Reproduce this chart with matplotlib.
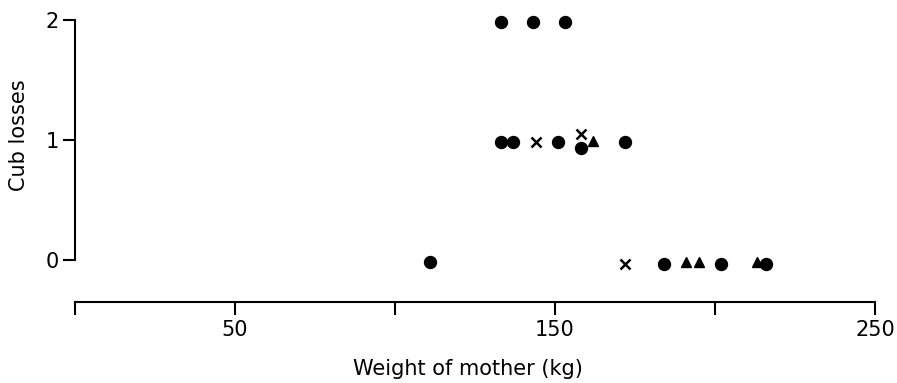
import matplotlib
matplotlib.use("Agg")
import matplotlib.pyplot as plt

plt.rcParams['font.family'] = ['DejaVu Sans']

# Data
circle_x = [133, 143, 153, 133, 137, 151, 158, 172, 111, 184, 202, 216]
circle_y = [1.98, 1.98, 1.98, 0.98, 0.98, 0.98, 0.93, 0.98, -0.02, -0.03, -0.03, -0.03]
tri_x = [162, 191, 195, 213]
tri_y = [0.99, -0.02, -0.02, -0.02]
cross_x = [144, 158, 172]
cross_y = [0.98, 1.05, -0.03]

x_ticks = [0, 50, 100, 150, 200, 250]
x_labels = ['', '50', '', '150', '', '250']
y_ticks = [0, 1, 2]
y_labels = ['0', '1', '2']

W, H = 897, 383
fig = plt.figure(figsize=(W / 100, H / 100), dpi=100)
ax = fig.add_axes([75 / W, 1 - 284 / H, 800 / W, 276 / H])

ax.plot(circle_x, circle_y, 'o', color='black', markersize=8.6, linestyle='none', clip_on=False)
ax.plot(tri_x, tri_y, '^', color='black', markersize=7.8, linestyle='none', clip_on=False)
ax.plot(cross_x, cross_y, 'x', color='black', markersize=7, markeredgewidth=1.8, linestyle='none', clip_on=False)

ax.set_xlim(0, 250)
ax.set_ylim(-0.2, 2.1)

for s in ['top', 'right']:
    ax.spines[s].set_visible(False)
ax.spines['left'].set_bounds(0, 2)
ax.spines['bottom'].set_bounds(0, 250)
ax.spines['bottom'].set_position(('outward', 13))
ax.spines['left'].set_linewidth(1.5)
ax.spines['bottom'].set_linewidth(1.5)

ax.set_xticks(x_ticks)
ax.set_xticklabels(x_labels)
ax.set_yticks(y_ticks)
ax.set_yticklabels(y_labels)
ax.tick_params(axis='x', length=9, width=1.5, labelsize=15, pad=4)
ax.tick_params(axis='y', length=8.5, width=1.5, labelsize=15, pad=3)

ax.set_xlabel('Weight of mother (kg)', fontsize=15)
ax.set_ylabel('Cub losses', fontsize=15)
ax.xaxis.set_label_coords(0.491, -0.27)
ax.yaxis.set_label_coords(-0.0575, 0.54)

fig.savefig('out.png', dpi=100)
